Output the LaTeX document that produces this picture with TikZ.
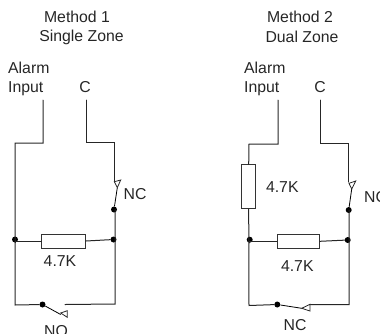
\documentclass[tikz,border=0pt]{standalone}
\usepackage{fontspec}
\setmainfont{Liberation Sans}
\tikzset{
  wire/.style={draw=black!85,line width=1pt,line cap=round,line join=miter},
  res/.style={draw=black!80,line width=1pt,fill=white,inner sep=0pt,minimum width=#1,minimum height=14pt},
  resv/.style={draw=black!80,line width=1pt,fill=white,inner sep=0pt,minimum width=14pt,minimum height=#1},
  jdot/.style={circle,fill=black,inner sep=0pt,minimum size=6pt},
  lab/.style={font=\fontsize{15.8}{18.5}\selectfont,text=black!85,inner sep=0pt},
  tip/.style={draw=black!85,line width=0.8pt,fill=white,line join=miter},
  blade/.style={draw=black,line width=0.8pt}
}
\begin{document}
\begin{tikzpicture}[x=1pt,y=-1pt]
\useasboundingbox (0,0) rectangle (380,333);
\clip (0,0) rectangle (380,333);
% Method 1 labels
\node[lab] (t1a) at (77,17) {Method 1};
\node[lab] (t1b) at (81.5,37) {Single Zone};
\node[lab,align=left,anchor=west] (ai1) at (8,79) {Alarm\\Input};
\node[lab] (c1) at (85,87) {C};
\node[lab] (r1l) at (60,261) {4.7K};
\node[lab,anchor=west] (nc1) at (123.5,194) {NC};
\node[lab] (no1) at (56,331) {NO};
% Method 1 circuit
\coordinate (a1) at (43,100);
\coordinate (a1b) at (43,143);
\coordinate (a1c) at (15,143);
\coordinate (b1) at (15,305);
\coordinate (c1t) at (86,100);
\coordinate (c1b) at (86,142);
\coordinate (c1c) at (114,142);
\coordinate (c1d) at (114,182);
\coordinate (sw1b) at (117.3,187.7);
\node[jdot] (sw1p) at (114,209.5) {};
\node[jdot] (j1l) at (15,239.5) {};
\node[jdot] (j1r) at (113.5,239.5) {};
\coordinate (br1) at (115,304);
\coordinate (sw1e) at (65,304.5);
\node[jdot] (no1p) at (42.5,304.5) {};
\coordinate (no1t) at (60.7,314.5);
\node[res=43.5pt] (r1) at (63.7,241) {};
\draw[wire] (a1) -- (a1b) -- (a1c) -- (b1) -- (no1p);
\draw[wire] (c1t) -- (c1b) -- (c1c) -- (c1d);
\draw[wire] (sw1p.center) ++(1,0) -- (br1) -- (sw1e);
\draw[wire] (j1l) |- (r1.west);
\draw[wire] (r1.east) -- (j1r);
\draw[blade] (sw1p) -- (sw1b);
\draw[blade] (no1p) -- (no1t);
\draw[tip] (114.3,181.7) -- (120.7,180) -- (117.3,187.7) -- cycle;
\draw[tip] (60.7,313) -- (67.3,310.7) -- (67.3,317.3) -- cycle;
% Method 2 labels
\node[lab] (t2a) at (300,17) {Method 2};
\node[lab] (t2b) at (302,37) {Dual Zone};
\node[lab,align=left,anchor=west] (ai2) at (244,79) {Alarm\\Input};
\node[lab] (c2) at (320,87) {C};
\node[lab] (r2u) at (282.3,186.7) {4.7K};
\node[lab] (r2l) at (297.3,266) {4.7K};
\node[lab,anchor=west] (nc2) at (364,197) {NC};
\node[lab] (nc3) at (295,325) {NC};
% Method 2 circuit
\coordinate (a2) at (278,100);
\coordinate (a2b) at (278,144);
\coordinate (a2c) at (249,144);
\node[resv=43.7pt] (r3) at (248.7,186.8) {};
\coordinate (b2) at (249,305.5);
\coordinate (c2t) at (320.5,100);
\coordinate (c2b) at (320.5,143);
\coordinate (c2c) at (348.7,143);
\coordinate (c2d) at (348.7,182);
\coordinate (sw2b) at (351.7,189);
\node[jdot] (sw2p) at (348.7,210) {};
\node[jdot] (j2l) at (249.7,239.7) {};
\node[jdot] (j2r) at (347.7,240) {};
\coordinate (br2) at (349,304.5);
\coordinate (sw2e) at (310,304.5);
\node[jdot] (nc3p) at (277.3,304.5) {};
\coordinate (nc3t) at (301.7,308.3);
\node[res=42pt] (r2) at (298.3,241.3) {};
\draw[wire] (a2) -- (a2b) -- (a2c) -- (r3.north);
\draw[wire] (r3.south) -- (b2) -- (nc3p);
\draw[wire] (c2t) -- (c2b) -- (c2c) -- (c2d);
\draw[wire] (sw2p.center) ++(0.5,0) -- (br2) -- (sw2e);
\draw[wire] (j2l) |- (r2.west);
\draw[wire] (r2.east) -- (j2r);
\draw[blade] (sw2p) -- (sw2b);
\draw[blade] (nc3p) -- (nc3t);
\draw[tip] (349,183.3) -- (355.7,181) -- (351.7,189) -- cycle;
\draw[tip] (301.7,308.3) -- (310,304.3) -- (310,311) -- cycle;
\end{tikzpicture}
\end{document}
